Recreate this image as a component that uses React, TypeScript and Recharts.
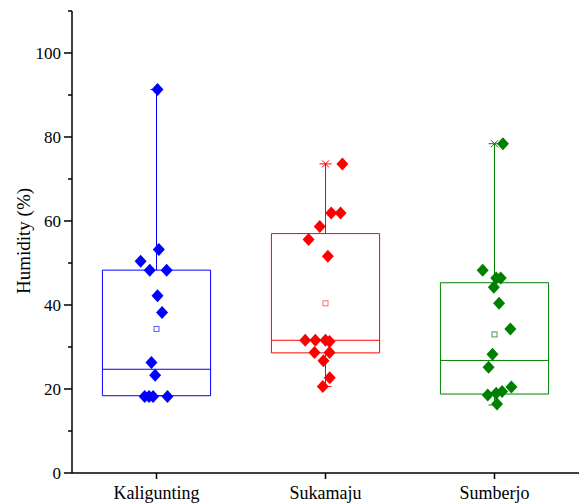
import React from "react";
import {
  ReferenceArea,
  ReferenceLine,
  Scatter,
  ScatterChart,
  XAxis,
  YAxis,
} from "recharts";

const sites = ["Kaligunting", "Sukamaju", "Sumberjo"];
const colors = ["#0000ff", "#ff0000", "#008000"];
const meanColors = ["#5a5aff", "#ff6a6a", "#4a9a4a"];

// box statistics
const q1 = [18.4, 28.6, 18.8];
const median = [24.7, 31.6, 26.8];
const q3 = [48.3, 57.0, 45.3];
const mean = [34.3, 40.4, 33.0];
const whiskerMin = [18.4, 20.6, 16.2];
const whiskerMax = [91.3, 73.6, 78.4];
const maxMarker = ["dash", "star", "star"];
const minMarker = ["dash", "dash", "dash"];

// raw observations and their horizontal jitter (category units)
const kaligunting = [91.3, 53.2, 50.4, 48.3, 48.3, 42.2, 38.2, 26.3, 23.3, 18.2, 18.2, 18.2, 18.2];
const kaliguntingJitter = [0.006, 0.014, -0.094, -0.04, 0.06, 0.006, 0.033, -0.03, -0.008, -0.07, -0.044, -0.02, 0.065];

const sukamaju = [73.6, 61.9, 61.9, 58.7, 55.6, 51.6, 31.6, 31.6, 31.6, 31.3, 28.7, 28.7, 26.7, 22.7, 20.6];
const sukamajuJitter = [0.1, 0.034, 0.089, -0.034, -0.1, 0.014, -0.12, -0.06, 0, 0.024, -0.065, 0.024, -0.012, 0.025, -0.016];

const sumberjo = [78.4, 48.3, 46.4, 46.4, 44.2, 40.4, 34.3, 28.3, 25.2, 20.5, 19.4, 19.0, 18.6, 16.4];
const sumberjoJitter = [0.05, -0.07, 0.01, 0.037, -0.004, 0.027, 0.094, -0.012, -0.035, 0.1, 0.045, 0.01, -0.04, 0.015];

const yTicks = [0, 10, 20, 30, 40, 50, 60, 70, 80, 90, 100, 110];

const raw = [
  { values: kaligunting, jitter: kaliguntingJitter },
  { values: sukamaju, jitter: sukamajuJitter },
  { values: sumberjo, jitter: sumberjoJitter },
];

const center = (i: number) => i + 0.5;
const HALF = 0.32;
const FONT = "Liberation Serif";

const Diamond = (props: any) => {
  const { cx, cy, fill } = props;
  if (cx == null || cy == null) return null;
  return (
    <polygon
      points={`${cx},${cy - 6.5} ${cx + 6},${cy} ${cx},${cy + 6.5} ${cx - 6},${cy}`}
      fill={fill}
    />
  );
};

const MeanSquare = (props: any) => {
  const { cx, cy, stroke } = props;
  if (cx == null || cy == null) return null;
  return <rect x={cx - 2.5} y={cy - 2.5} width={5} height={5} fill="#fff" stroke={stroke} strokeWidth={1} />;
};

const EndMarker = (props: any) => {
  const { cx, cy, stroke, payload } = props;
  if (cx == null || cy == null) return null;
  return (
    <g stroke={stroke} strokeWidth={1}>
      <line x1={cx - 6} y1={cy} x2={cx + 6} y2={cy} />
      {payload.kind === "star" && (
        <>
          <line x1={cx - 3.5} y1={cy - 3.5} x2={cx + 3.5} y2={cy + 3.5} />
          <line x1={cx - 3.5} y1={cy + 3.5} x2={cx + 3.5} y2={cy - 3.5} />
        </>
      )}
    </g>
  );
};

const YTick = (props: any) => {
  const { y, payload } = props;
  const major = payload.value % 20 === 0;
  return (
    <g>
      <line x1={major ? 64 : 68} y1={y} x2={72} y2={y} stroke="#000" strokeWidth={1.5} />
      {major && payload.value <= 100 && (
        <text x={61} y={y} textAnchor="end" dominantBaseline="central" fill="#000" style={{ fontFamily: FONT, fontSize: 17 }}>
          {payload.value}
        </text>
      )}
    </g>
  );
};

const XTick = (props: any) => {
  const { x, payload } = props;
  return (
    <g>
      <line x1={x} y1={473} x2={x} y2={479} stroke="#000" strokeWidth={1.5} />
      <text x={x} y={499} textAnchor="middle" fill="#000" style={{ fontFamily: FONT, fontSize: 18 }}>
        {sites[Math.round(payload.value - 0.5)]}
      </text>
    </g>
  );
};

const YTitle = () => (
  <text
    transform="translate(23,241) rotate(-90)"
    textAnchor="middle"
    dominantBaseline="central"
    fill="#000"
    style={{ fontFamily: FONT, fontSize: 19 }}
  >
    Humidity (%)
  </text>
);

const BoxChart = () => {
  return (
    <div style={{ position: "absolute", left: 0, top: 0, fontFamily: FONT }}>
      <ScatterChart width={579} height={504} margin={{ top: 11, right: 0, bottom: 0, left: 0 }}>
        <XAxis
          dataKey="x"
          type="number"
          domain={[0, 3]}
          ticks={[0.5, 1.5, 2.5]}
          height={31}
          tickLine={false}
          axisLine={{ stroke: "#000", strokeWidth: 1.5 }}
          tick={<XTick />}
          interval={0}
          allowDataOverflow
        />
        <YAxis
          dataKey="y"
          type="number"
          domain={[0, 110]}
          ticks={yTicks}
          width={72}
          tickLine={false}
          axisLine={{ stroke: "#000", strokeWidth: 1.5 }}
          tick={<YTick />}
          interval={0}
          label={<YTitle />}
          allowDataOverflow
        />
        {sites.map((s, i) => (
          <ReferenceArea
            key={`box-${s}`}
            x1={center(i) - HALF}
            x2={center(i) + HALF}
            y1={q1[i]}
            y2={q3[i]}
            fill="none"
            fillOpacity={0}
            stroke={colors[i]}
            strokeWidth={1}
          />
        ))}
        {sites.map((s, i) => (
          <ReferenceLine
            key={`med-${s}`}
            segment={[
              { x: center(i) - HALF, y: median[i] },
              { x: center(i) + HALF, y: median[i] },
            ]}
            stroke={colors[i]}
            strokeWidth={1}
          />
        ))}
        {sites.map((s, i) => (
          <ReferenceLine
            key={`wtop-${s}`}
            segment={[
              { x: center(i), y: q3[i] },
              { x: center(i), y: whiskerMax[i] },
            ]}
            stroke={colors[i]}
            strokeWidth={1}
          />
        ))}
        {sites.map((s, i) => (
          <ReferenceLine
            key={`wbot-${s}`}
            segment={[
              { x: center(i), y: whiskerMin[i] },
              { x: center(i), y: q1[i] },
            ]}
            stroke={colors[i]}
            strokeWidth={1}
          />
        ))}
        {sites.map((s, i) => (
          <Scatter
            key={`ends-${s}`}
            data={[
              { x: center(i), y: whiskerMax[i], kind: maxMarker[i] },
              { x: center(i), y: whiskerMin[i], kind: minMarker[i] },
            ]}
            stroke={colors[i]}
            shape={<EndMarker />}
            isAnimationActive={false}
          />
        ))}
        {sites.map((s, i) => (
          <Scatter
            key={`mean-${s}`}
            data={[{ x: center(i), y: mean[i] }]}
            stroke={meanColors[i]}
            shape={<MeanSquare />}
            isAnimationActive={false}
          />
        ))}
        {sites.map((s, i) => (
          <Scatter
            key={`pts-${s}`}
            name={s}
            data={raw[i].values.map((v, k) => ({ x: center(i) + raw[i].jitter[k], y: v }))}
            fill={colors[i]}
            shape={<Diamond />}
            isAnimationActive={false}
          />
        ))}
      </ScatterChart>
    </div>
  );
};

export default function App() {
  return <BoxChart />;
}
